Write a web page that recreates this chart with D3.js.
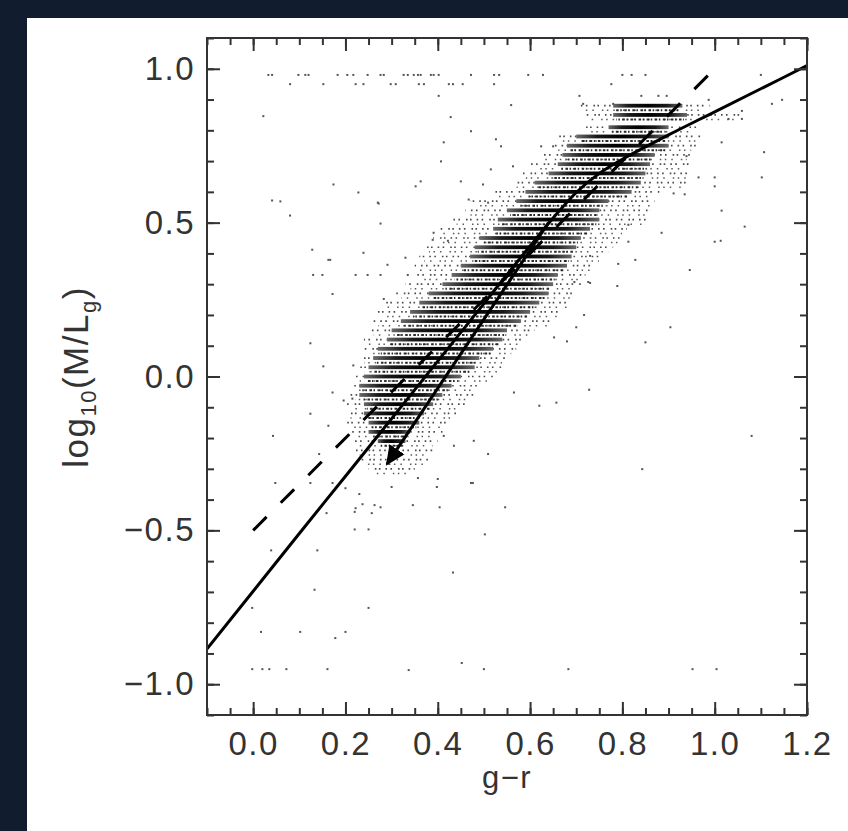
<!DOCTYPE html>
<html><head><meta charset="utf-8">
<script src="https://cdn.jsdelivr.net/npm/d3@7"></script>
<style>
html,body{margin:0;padding:0;background:#111c2e;}
svg{display:block}
text{font-family:"Liberation Sans",Arial,sans-serif;}
</style></head><body>
<svg id="chart" width="848" height="831"></svg>
<script>
// ---------- DATA ----------
// model curve (solid)
const curveX = [-0.1, 0.0, 0.1, 0.2, 0.3, 0.4, 0.5, 0.6, 0.65, 0.7, 0.75, 0.8, 0.85, 0.9, 1.0, 1.1, 1.2];
const curveY = [-0.885, -0.698, -0.51, -0.324, -0.137, 0.05, 0.237, 0.424, 0.515, 0.598, 0.66, 0.706, 0.746, 0.785, 0.86, 0.935, 1.01];
// dashed relation
const dashedX = [0.0, 1.0];
const dashedY = [-0.5, 1.0];
// arrow (start -> tip)
const arrowX = [0.64, 0.29];
const arrowY = [0.50, -0.285];
// dense cloud: horizontal rows of points (quantised in y)
const rowY      = [0.88,0.85,0.81,0.78,0.75,0.72,0.69,0.66,0.63,0.60,0.57,0.54,0.51,0.48,0.45,0.42,0.39,0.36,0.33,0.30,0.27,0.24,0.21,0.18,0.15,0.12,0.09,0.06,0.03,0.00,-0.03,-0.06,-0.09,-0.12,-0.15,-0.18,-0.21,-0.24,-0.27,-0.30];
const rowOuterX0= [0.71,0.72,0.71,0.66,0.65,0.62,0.60,0.58,0.56,0.52,0.47,0.46,0.43,0.40,0.39,0.37,0.36,0.35,0.35,0.33,0.31,0.28,0.27,0.26,0.25,0.24,0.24,0.23,0.23,0.22,0.21,0.21,0.20,0.20,0.20,0.21,0.21,0.22,0.23,0.25];
const rowCoreX0 = [0.78,0.78,0.77,0.70,0.68,0.67,0.66,0.64,0.61,0.59,0.57,0.55,0.53,0.52,0.49,0.48,0.47,0.45,0.43,0.41,0.38,0.36,0.34,0.32,0.30,0.29,0.27,0.26,0.25,0.24,0.23,0.23,0.24,0.24,0.25,0.25,0.27,0.30,0.30,0.30];
const rowCoreX1 = [0.93,0.94,0.90,0.90,0.90,0.87,0.86,0.85,0.84,0.82,0.77,0.75,0.75,0.73,0.71,0.70,0.69,0.68,0.66,0.65,0.64,0.62,0.60,0.58,0.55,0.54,0.52,0.49,0.48,0.45,0.43,0.41,0.39,0.37,0.36,0.34,0.33,0.30,0.30,0.30];
const rowOuterX1= [0.99,1.06,0.97,0.97,0.96,0.95,0.95,0.95,0.94,0.88,0.87,0.86,0.86,0.81,0.80,0.78,0.76,0.74,0.72,0.71,0.70,0.69,0.67,0.65,0.61,0.59,0.57,0.55,0.54,0.52,0.49,0.48,0.46,0.44,0.42,0.41,0.40,0.39,0.38,0.35];
// isolated points
const outlierX = [
 0.033,0.041,0.098,0.113,0.12,0.183,0.204,0.217,0.248,0.276,0.283,0.326,0.335,0.348,0.357,0.363,0.385,0.391,0.402,0.472,0.522,0.533,0.596,0.628,0.80,0.82,0.85,1.10,
 0.08,0.152,0.222,0.239,0.298,0.309,0.359,0.37,0.424,0.433,0.454,0.522,0.776,
 0.022,0.402,0.559,0.428,0.472,0.413,0.526,0.537,0.407,0.624,0.65,0.515,0.563,0.174,0.228,0.363,0.352,0.45,0.498,0.041,0.059,0.27,0.08,0.276,0.391,0.389,0.422,0.128,0.239,0.163,0.291,0.33,0.13,0.15,0.222,0.248,0.276,0.335,0.467,0.509,
 1.0,1.015,1.065,0.885,1.0,1.013,0.911,0.935,0.813,0.813,0.791,0.828,0.946,0.73,0.73,0.789,0.696,0.717,0.7,0.904,0.68,0.85,0.728,1.08,0.843,
 0.683,0.952,1.004,-0.002,0.02,0.035,0.072,0.161,0.337,0.5,
 0.048,0.124,0.172,0.2,0.23,0.222,0.22,0.237,0.257,0.263,0.276,0.3,0.346,0.398,0.404,0.476,0.546,0.159,0.22,0.25,0.502,0.039,0.139,0.433,0.133,-0.002,0.25,0.017,0.102,0.2,0.178,0.452,
 0.124,0.043,0.163,0.143,
 0.272,0.167,0.172,0.283,0.124,0.152,0.217,0.172,0.196,0.215,0.657,0.62,0.565,0.652,0.726,0.4,0.472,0.357,0.435,0.509,0.478,0.413,
 0.707,0.841,0.878,0.896,0.715,0.78,0.987,1.124,1.146,1.03,1.059,1.015,1.059,0.939,0.965,1.0,1.102,1.107];
const outlierY = [
 0.98,0.98,0.98,0.98,0.98,0.98,0.98,0.98,0.98,0.98,0.98,0.98,0.98,0.98,0.98,0.98,0.98,0.98,0.98,0.98,0.98,0.98,0.98,0.98,0.98,0.98,0.98,0.98,
 0.95,0.95,0.95,0.95,0.95,0.95,0.95,0.95,0.95,0.95,0.95,0.95,0.95,
 0.846,0.912,0.882,0.843,0.797,0.761,0.771,0.748,0.699,0.748,0.748,0.673,0.683,0.624,0.598,0.634,0.618,0.634,0.624,0.572,0.569,0.565,0.523,0.497,0.467,0.444,0.441,0.412,0.402,0.379,0.363,0.386,0.33,0.33,0.33,0.33,0.33,0.33,0.575,0.565,
 0.618,0.539,0.487,0.467,0.438,0.441,0.595,0.592,0.493,0.438,0.366,0.379,0.346,0.392,0.304,0.294,0.307,0.2,0.16,0.16,0.114,0.111,-0.043,-0.193,-0.301,
 -0.951,-0.951,-0.951,-0.951,-0.951,-0.951,-0.951,-0.951,-0.954,-0.951,
 -0.346,-0.346,-0.346,-0.363,-0.382,-0.428,-0.44,-0.415,-0.444,-0.418,-0.425,-0.359,-0.418,-0.359,-0.425,-0.346,-0.425,-0.444,-0.497,-0.497,-0.513,-0.565,-0.565,-0.637,-0.693,-0.752,-0.752,-0.83,-0.83,-0.83,-0.85,-0.931,
 -0.121,-0.193,-0.16,-0.252,
 0.562,0.379,0.268,0.252,0.108,0.033,0.036,-0.052,-0.078,-0.072,-0.085,-0.095,-0.052,0.127,0.307,-0.333,-0.346,-0.33,-0.225,-0.252,-0.209,-0.193,
 0.912,0.912,0.912,0.912,0.886,0.886,0.899,0.886,0.899,0.837,0.837,0.761,0.863,0.716,0.647,0.647,0.647,0.729];
// axes
const xMajorTicks = [0.0, 0.2, 0.4, 0.6, 0.8, 1.0, 1.2];
const yMajorTicks = [-1.0, -0.5, 0.0, 0.5, 1.0];
const xTitle = "g\u2212r";

// ---------- DRAWING ----------
const W = 848, H = 831;
const m = {l: 207, r: 807, t: 38, b: 715};
const svg = d3.select('#chart');
svg.append('rect').attr('width', W).attr('height', H).attr('fill', '#111c2e');
svg.append('rect').attr('x', 27).attr('y', 18).attr('width', W - 27).attr('height', H - 18).attr('fill', '#ffffff');

const x = d3.scaleLinear().domain([-0.1, 1.2]).range([m.l, m.r]);
const y = d3.scaleLinear().domain([-1.1, 1.1]).range([m.b, m.t]);

const defs = svg.append('defs');
defs.append('clipPath').attr('id', 'clip').append('rect')
  .attr('x', m.l).attr('y', m.t).attr('width', m.r - m.l).attr('height', m.b - m.t);
defs.append('marker').attr('id', 'ah').attr('markerUnits', 'userSpaceOnUse')
  .attr('viewBox', '0 0 20 20').attr('refX', 18).attr('refY', 10)
  .attr('markerWidth', 20).attr('markerHeight', 20).attr('orient', 'auto')
  .append('path').attr('d', 'M0,1 L20,10 L0,19 Z').attr('fill', '#000');
const grad = defs.append('linearGradient').attr('id', 'coreGrad').attr('x1', 0).attr('x2', 1).attr('y1', 0).attr('y2', 0);
[[0, '#6a6a6a'], [0.22, '#1a1a1a'], [0.5, '#000'], [0.78, '#1a1a1a'], [1, '#6a6a6a']]
  .forEach(s => grad.append('stop').attr('offset', s[0]).attr('stop-color', s[1]));

const plot = svg.append('g').attr('clip-path', 'url(#clip)');

// cloud rows
const rows = rowY.map((v, i) => ({y: v, o0: rowOuterX0[i], c0: rowCoreX0[i], c1: rowCoreX1[i], o1: rowOuterX1[i], i}));
const coreRows = rows.filter(d => d.c1 > d.c0);
const cloud = plot.append('g');
cloud.selectAll('line.outer').data(rows).join('line').attr('class', 'outer')
  .attr('x1', d => x(d.o0)).attr('x2', d => x(d.o1))
  .attr('y1', d => y(d.y)).attr('y2', d => y(d.y))
  .attr('stroke', '#4a4a4a').attr('stroke-width', 1.7)
  .attr('stroke-dasharray', '1.6 3.4 1.6 6 1.6 2.4 1.6 5').attr('stroke-dashoffset', d => (d.i * 3.7) % 23);
cloud.selectAll('line.outer2').data(rows).join('line').attr('class', 'outer2')
  .attr('transform', 'translate(0,4.6)')
  .attr('x1', d => x(d.o0) + 5).attr('x2', d => x(d.o1) - 5)
  .attr('y1', d => y(d.y)).attr('y2', d => y(d.y))
  .attr('stroke', '#5a5a5a').attr('stroke-width', 1.5)
  .attr('stroke-dasharray', '1.5 5 1.5 8 1.5 3.5').attr('stroke-dashoffset', d => (d.i * 5.3) % 21);
cloud.selectAll('line.fuzz').data(coreRows).join('line').attr('class', 'fuzz')
  .attr('transform', 'translate(0,4.6)')
  .attr('x1', d => x(d.c0) + 3).attr('x2', d => x(d.c1) - 3)
  .attr('y1', d => y(d.y)).attr('y2', d => y(d.y))
  .attr('stroke', '#2a2a2a').attr('stroke-width', 2)
  .attr('stroke-dasharray', '2.5 1.6 1.5 2.5').attr('stroke-dashoffset', d => (d.i * 1.9) % 8);
cloud.selectAll('rect.core').data(coreRows).join('rect').attr('class', 'core')
  .attr('x', d => x(d.c0)).attr('width', d => x(d.c1) - x(d.c0))
  .attr('y', d => y(d.y) - 1.9).attr('height', 3.8)
  .attr('fill', 'url(#coreGrad)');

// isolated points
plot.append('g').selectAll('rect').data(outlierX.map((v, i) => [v, outlierY[i]])).join('rect')
  .attr('x', d => x(d[0]) - 1).attr('y', d => y(d[1]) - 1)
  .attr('width', 2).attr('height', 2).attr('fill', '#555');

// lines
plot.append('path').datum(curveX.map((v, i) => [v, curveY[i]]))
  .attr('d', d3.line().x(d => x(d[0])).y(d => y(d[1])).curve(d3.curveMonotoneX)).attr('fill', 'none')
  .attr('stroke', '#000').attr('stroke-width', 3);
plot.append('path').datum(dashedX.map((v, i) => [v, dashedY[i]]))
  .attr('d', d3.line().x(d => x(d[0])).y(d => y(d[1]))).attr('fill', 'none')
  .attr('stroke', '#000').attr('stroke-width', 3).attr('stroke-dasharray', '19 20');
svg.append('path').datum(arrowX.map((v, i) => [v, arrowY[i]]))
  .attr('d', d3.line().x(d => x(d[0])).y(d => y(d[1]))).attr('fill', 'none')
  .attr('stroke', '#000').attr('stroke-width', 3).attr('marker-end', 'url(#ah)');

// axes
const fmt = d3.format('.1f');
const xMinor = d3.range(-2, 25).map(k => k * 0.05).filter(v => v > -0.1001 && v < 1.2001);
const yMinor = d3.range(-11, 12).map(k => k * 0.1);
function styleAxis(g) {
  g.select('.domain').remove();
  g.selectAll('line').attr('stroke', '#333').attr('stroke-width', 2);
  g.selectAll('text').attr('fill', '#333').style('font-size', '33px').style('letter-spacing', '1.5px')
    .style('font-family', '"Liberation Sans", Arial, sans-serif');
}
svg.append('g').attr('transform', `translate(0,${m.b})`)
  .call(d3.axisBottom(x).tickValues(xMajorTicks).tickSize(-13).tickPadding(17).tickFormat(fmt)).call(styleAxis);
svg.append('g').attr('transform', `translate(0,${m.b})`)
  .call(d3.axisBottom(x).tickValues(xMinor).tickSize(-7).tickFormat('')).call(styleAxis);
svg.append('g').attr('transform', `translate(0,${m.t})`)
  .call(d3.axisTop(x).tickValues(xMajorTicks).tickSize(-13).tickFormat('')).call(styleAxis);
svg.append('g').attr('transform', `translate(0,${m.t})`)
  .call(d3.axisTop(x).tickValues(xMinor).tickSize(-7).tickFormat('')).call(styleAxis);
svg.append('g').attr('transform', `translate(${m.l},0)`)
  .call(d3.axisLeft(y).tickValues(yMajorTicks).tickSize(-13).tickPadding(12).tickFormat(fmt)).call(styleAxis);
svg.append('g').attr('transform', `translate(${m.l},0)`)
  .call(d3.axisLeft(y).tickValues(yMinor).tickSize(-7).tickFormat('')).call(styleAxis);
svg.append('g').attr('transform', `translate(${m.r},0)`)
  .call(d3.axisRight(y).tickValues(yMajorTicks).tickSize(-13).tickFormat('')).call(styleAxis);
svg.append('g').attr('transform', `translate(${m.r},0)`)
  .call(d3.axisRight(y).tickValues(yMinor).tickSize(-7).tickFormat('')).call(styleAxis);

// frame
svg.append('rect').attr('x', m.l).attr('y', m.t).attr('width', m.r - m.l).attr('height', m.b - m.t)
  .attr('fill', 'none').attr('stroke', '#333').attr('stroke-width', 2);

// titles
svg.append('text').attr('x', (m.l + m.r) / 2).attr('y', 788).attr('text-anchor', 'middle')
  .attr('fill', '#333').style('font-size', '31px').style('letter-spacing', '1.5px').text(xTitle);
const yt = svg.append('text').attr('transform', 'translate(88,377) rotate(-90)').attr('text-anchor', 'middle')
  .attr('fill', '#333').style('font-size', '35px').style('letter-spacing', '1.5px');
yt.append('tspan').text('log');
yt.append('tspan').attr('dy', 8).style('font-size', '22px').text('10');
yt.append('tspan').attr('dy', -8).text('(M/L');
yt.append('tspan').attr('dy', 8).style('font-size', '22px').text('g');
yt.append('tspan').attr('dy', -8).text(')');
</script>
</body></html>
